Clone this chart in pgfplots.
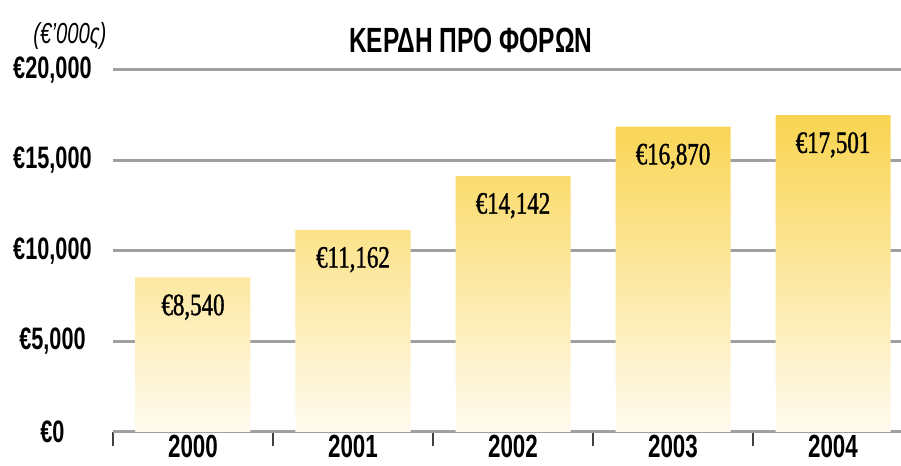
\documentclass[border=0pt]{standalone}
\usepackage{fontspec}
\setmainfont{Liberation Sans}[FakeStretch=0.7]
\newfontfamily\valfont{Liberation Serif}[FakeStretch=0.74, FakeBold=1.2]
\usepackage{pgfplots}
\pgfplotsset{compat=1.18}

\definecolor{bartop}{RGB}{249,212,80}
\definecolor{barbot}{RGB}{255,251,240}
\definecolor{gridgray}{RGB}{160,160,160}

\begin{document}
\begin{tikzpicture}
% fix picture size to the reference proportions
\path[use as bounding box] (-56.5pt,-17pt) rectangle (394pt,216pt);
\begin{axis}[
    scale only axis,
    width=394pt, height=181pt,
    xmin=-0.5, xmax=4.425,
    ymin=0, ymax=20000,
    scaled y ticks=false,
    axis x line*=bottom,
    axis y line*=left,
    y axis line style={draw=none},
    x axis line style={draw=gridgray, line width=1.5pt},
    xtick={0,1,2,3,4},
    xticklabels={2000,2001,2002,2003,2004},
    major x tick style={draw=none},
    minor xtick={-0.5,0.5,1.5,2.5,3.5},
    minor x tick style={draw=black!75, line width=1pt},
    minor tick length=7pt,
    tick align=outside,
    xticklabel style={font=\bfseries\fontsize{16}{16}\selectfont, inner sep=1pt, yshift=4pt},
    ytick={0,5000,10000,15000,20000},
    yticklabels={{€0},{€5,000},{€10,000},{€15,000},{€20,000}},
    major y tick style={draw=none},
    yticklabel style={font=\bfseries\fontsize{15.5}{15}\selectfont, anchor=center, xshift=-26pt},
    ymajorgrids=true,
    grid style={draw=gridgray, line width=1.5pt},
    clip=false,
    ybar, bar width=57.5pt,
    nodes near coords,
    point meta=explicit symbolic,
    every node near coord/.append style={font=\valfont\fontsize{15.5}{15}\selectfont, anchor=north, yshift=-5pt, text=black},
]
\addplot[draw=none, top color=bartop, bottom color=barbot] coordinates {
    (0,8540)  [€8,540]
    (1,11162) [€11,162]
    (2,14142) [€14,142]
    (3,16870) [€16,870]
    (4,17501) [€17,501]
};
\node[font=\bfseries\fontsize{17.5}{17}\selectfont] at ([yshift=15pt]rel axis cs:0.454,1) {ΚΕΡΔΗ ΠΡΟ ΦΟΡΩΝ};
\node[font=\itshape\fontsize{14.5}{14}\selectfont] at ([xshift=-21.5pt,yshift=17pt]rel axis cs:0,1) {(€’000ς)};
\end{axis}
\end{tikzpicture}
\end{document}
